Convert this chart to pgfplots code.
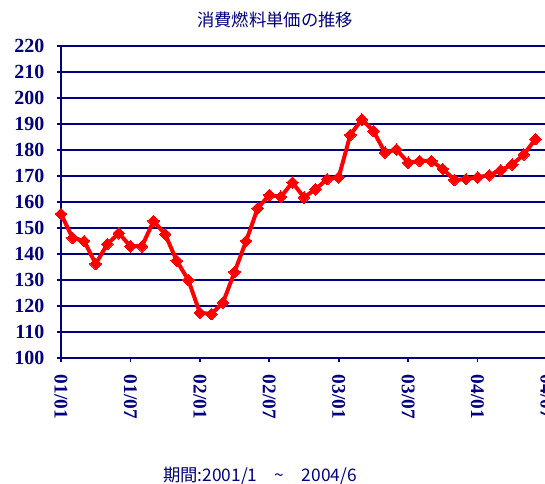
\documentclass[border=0pt]{standalone}
\usepackage{fontspec}
\setmainfont{Liberation Serif}
\newfontfamily\cjk{Noto Sans CJK JP}
\usepackage{pgfplots}
\pgfplotsset{compat=1.18}
\definecolor{navy}{RGB}{0,0,128}
\definecolor{lred}{RGB}{255,0,0}
\begin{document}
\begin{tikzpicture}[x=1pt,y=1pt]
\useasboundingbox (-45.75,-94.5) rectangle (363,268.5);
\clip (-45.75,-94.5) rectangle (363,268.5);
\begin{axis}[
  at={(0,0)}, anchor=south west,
  scale only axis,
  width=364.5pt, height=234pt,
  xmin=0, xmax=42, ymin=100, ymax=220,
  axis lines=left,
  axis line style={-, navy, line width=1.4pt},
  xtick={0,6,12,18,24,30,36,42},
  xticklabels={01/01,01/07,02/01,02/07,03/01,03/07,04/01,04/07},
  ytick={100,110,...,220},
  tick align=outside,
  major tick length=3pt,
  tick style={navy, line width=1.2pt},
  ymajorgrids,
  grid style={navy, line width=1.4pt},
  xticklabel shift=6pt,
  xticklabel style={rotate=-90, anchor=west, font=\bfseries\fontsize{14.5}{16}\selectfont, text=navy},
  yticklabel style={font=\bfseries\fontsize{15}{17}\selectfont, text=navy, xshift=-6pt},
  /pgf/number format/assume math mode=true,
  clip=false,
]
\addplot[lred, line width=3pt, mark=square*, mark size=3.1pt, mark options={rotate=45, solid, fill=lred, draw=lred, line width=0pt}]
coordinates {
(0,155.4) (1,146.2) (2,145) (3,136.2) (4,143.8) (5,148) (6,143) (7,143)
(8,152.7) (9,147.6) (10,137.4) (11,130) (12,117.4) (13,116.9) (14,121.3) (15,133.1)
(16,145) (17,157.6) (18,162.7) (19,162) (20,167.5) (21,161.8) (22,164.9) (23,168.8)
(24,169.5) (25,185.8) (26,191.8) (27,187.3) (28,179) (29,180.2) (30,175.1) (31,175.8)
(32,175.8) (33,172.7) (34,168.5) (35,168.8) (36,169.5) (37,170.3) (38,172.2) (39,174.4)
(40,178.3) (41,184.2)
};
\end{axis}
\node[text=navy, font=\cjk\fontsize{13}{15}\selectfont] at (160.5,253.5) {消費燃料単価の推移};
\node[text=navy, font=\cjk\fontsize{13}{15}\selectfont] at (149.25,-88.5) {期間:2001/1\quad\textasciitilde\quad 2004/6};
\end{tikzpicture}
\end{document}
